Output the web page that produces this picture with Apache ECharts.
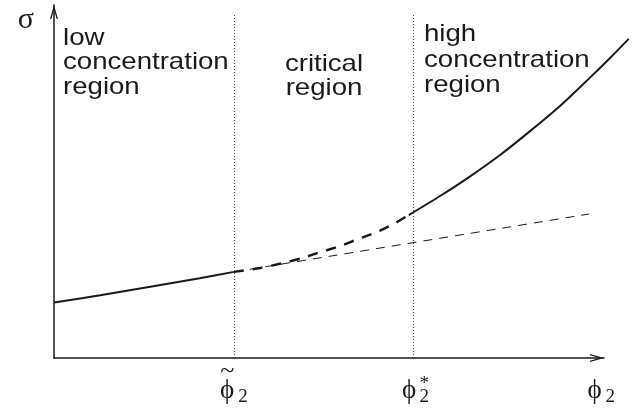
<!DOCTYPE html>
<html>
<head>
<meta charset="utf-8">
<script src="https://cdn.jsdelivr.net/npm/echarts@6/dist/echarts.min.js"></script>
<style>html,body{margin:0;padding:0;background:#fff}#main{width:636px;height:408px}</style>
</head>
<body>
<div id="main"></div>
<script>
// curve pieces (x: 0..10, y: 0..10)
var lowBranch = [[0, 1.57], [0.84, 1.78], [1.75, 2.02], [2.65, 2.26], [3.27, 2.44]];
var criticalBranch = [[3.27, 2.44], [3.75, 2.55], [4.16, 2.69], [4.51, 2.83], [4.84, 3.0], [5.2, 3.17],
    [5.53, 3.37], [5.87, 3.57], [6.2, 3.82], [6.45, 4.05]];
var highBranch = [[6.45, 4.05], [7.02, 4.59], [7.56, 5.14], [8.11, 5.75], [8.65, 6.42], [9.2, 7.14],
    [9.75, 7.95], [10.11, 8.5], [10.45, 9.04]];
var tangentLine = [[3.27, 2.44], [9.73, 4.08]];

var xTicks = [3.27, 6.53, 9.95];
var xTickLabels = [
    '{t|~}{tg| }\n{p|\u03d5}{s|2}',
    '{t| }\n{p|\u03d5}{g| }{z|2}{st|*}',
    '{t| }\n{p|\u03d5}{s|2}'
];
var regionBounds = [3.27, 6.53];
var regionTop = 9.77;

var arrowPath = 'path://M4,0 L8,14 L6.65,14 L4,4.7 L1.35,14 L0,14 Z';
var ink = '#1a1a1a';
var serif = '"Liberation Serif", "DejaVu Serif", serif';

var myChart = echarts.init(document.getElementById('main'));

var axisLineCfg = {
    show: true,
    symbol: ['none', arrowPath],
    symbolSize: [8, 14],
    symbolOffset: [0, -7],
    lineStyle: { color: ink, width: 1.5 }
};

// the upper branch runs past the arrow head, so it gets its own wider grid
// with the same scale (55 px per x unit)
var option = {
    animation: false,
    backgroundColor: '#fff',
    grid: [
        { left: 54, right: 32, top: 5, bottom: 50 },
        { left: 54, right: 7, top: 5, bottom: 50 }
    ],
    xAxis: [
        {
            type: 'value', min: 0, max: 10, gridIndex: 0,
            axisLine: axisLineCfg,
            axisTick: { show: false },
            splitLine: { show: false },
            axisLabel: {
                customValues: xTicks,
                margin: 9,
                formatter: function (v) {
                    for (var i = 0; i < xTicks.length; i++) {
                        if (Math.abs(xTicks[i] - v) < 1e-6) return xTickLabels[i];
                    }
                    return '';
                },
                rich: {
                    t: { fontFamily: serif, fontSize: 26, color: ink, lineHeight: 8 },
                    tg: { width: 13, lineHeight: 8 },
                    p: { fontFamily: serif, fontSize: 27, color: ink, lineHeight: 32 },
                    s: { fontFamily: serif, fontSize: 19, color: ink, verticalAlign: 'bottom', padding: [0, 0, 0, 4] },
                    g: { width: 8 },
                    z: { fontFamily: serif, fontSize: 19, color: ink, verticalAlign: 'bottom', width: 0 },
                    st: { fontFamily: serif, fontSize: 19, color: ink, verticalAlign: 'top', width: 0 }
                }
            }
        },
        {
            type: 'value', min: 0, max: 575 / 55, gridIndex: 1, show: false
        }
    ],
    yAxis: [
        {
            type: 'value', min: 0, max: 10, gridIndex: 0,
            axisLine: axisLineCfg,
            axisTick: { show: false },
            axisLabel: { show: false },
            splitLine: { show: false },
            name: '\u03c3',
            nameLocation: 'end',
            nameGap: -15,
            nameTextStyle: {
                fontFamily: serif, fontSize: 30, color: ink,
                align: 'right', verticalAlign: 'middle', padding: [0, 20, 0, 0]
            }
        },
        {
            type: 'value', min: 0, max: 10, gridIndex: 1, show: false
        }
    ],
    series: [
        {
            type: 'line', data: lowBranch, smooth: 0.3, symbol: 'none',
            lineStyle: { color: ink, width: 2 },
            markLine: {
                silent: true, symbol: 'none', label: { show: false },
                lineStyle: { color: '#555', width: 1, type: [1, 2] },
                data: regionBounds.map(function (x) {
                    return [{ coord: [x, 0] }, { coord: [x, regionTop] }];
                })
            }
        },
        {
            type: 'line', data: criticalBranch, smooth: 0.3, symbol: 'none',
            lineStyle: { color: ink, width: 2.5, type: [10, 9] }
        },
        {
            type: 'line', data: highBranch, smooth: 0.3, symbol: 'none',
            xAxisIndex: 1, yAxisIndex: 1,
            lineStyle: { color: ink, width: 2 }
        },
        {
            type: 'line', data: tangentLine, symbol: 'none',
            lineStyle: { color: ink, width: 1, type: [9, 7] }
        }
    ],
    graphic: [
        {
            type: 'text', x: 63, y: 26, scaleX: 1.15,
            style: { text: 'low\nconcentration\nregion', fontFamily: 'Liberation Sans', fontSize: 24,
                lineHeight: 24.5, fill: ink, textAlign: 'left', textVerticalAlign: 'top' }
        },
        {
            type: 'text', x: 324, y: 52, scaleX: 1.15,
            style: { text: 'critical\nregion', fontFamily: 'Liberation Sans', fontSize: 24,
                lineHeight: 24.5, fill: ink, textAlign: 'center', textVerticalAlign: 'top' }
        },
        {
            type: 'text', x: 424, y: 22, scaleX: 1.15,
            style: { text: 'high\nconcentration\nregion', fontFamily: 'Liberation Sans', fontSize: 24,
                lineHeight: 25.5, fill: ink, textAlign: 'left', textVerticalAlign: 'top' }
        }
    ]
};
myChart.setOption(option);
</script>
</body>
</html>
